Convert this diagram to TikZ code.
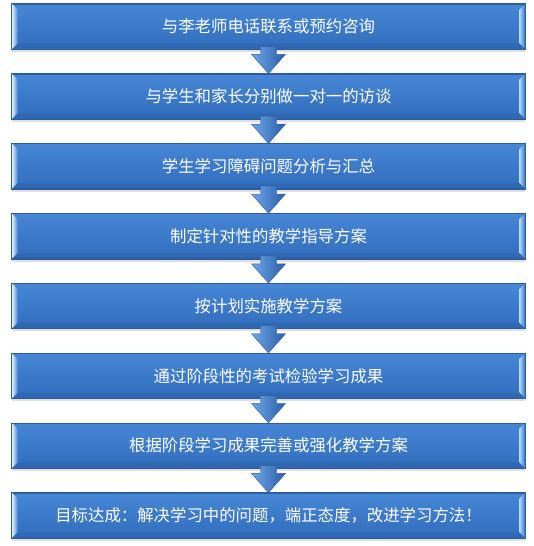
\documentclass[tikz,border=0pt]{standalone}
\usepackage{fontspec}
\setmainfont{Noto Sans CJK SC}
\usetikzlibrary{calc,shadows}
\definecolor{boxtop}{HTML}{4787D6}
\definecolor{boxbot}{HTML}{316DBD}
\definecolor{boxline}{HTML}{2B5C9E}
\definecolor{bevel}{HTML}{B4DBFC}
\definecolor{arrowlight}{HTML}{6FA6E8}
\definecolor{arrowdark}{HTML}{2A5EA8}

\begin{document}
\begin{tikzpicture}[x=1pt, y=-1pt,
  stepbox/.style={rectangle, draw=boxline, line width=0.6pt,
    top color=boxtop, bottom color=boxbot,
    minimum width=513pt, minimum height=45pt, inner sep=0pt,
    text=white, font=\fontsize{16.4}{19}\selectfont,
    drop shadow={shadow xshift=0pt, shadow yshift=-3pt, opacity=0.25}},
  downarrow/.style={left color=arrowlight, right color=arrowdark,
    draw=boxline, line width=0.4pt}]
  \useasboundingbox (0,0) rectangle (534,546);

  % the eight steps
  \node[stepbox] (b1) at (268.5,26.5)  {与李老师电话联系或预约咨询};
  \node[stepbox] (b2) at (268.5,96.35) {与学生和家长分别做一对一的访谈};
  \node[stepbox] (b3) at (268.5,166.2) {学生学习障碍问题分析与汇总};
  \node[stepbox] (b4) at (268.5,236.05) {制定针对性的教学指导方案};
  \node[stepbox] (b5) at (268.5,305.9) {按计划实施教学方案};
  \node[stepbox] (b6) at (268.5,375.75) {通过阶段性的考试检验学习成果};
  \node[stepbox] (b7) at (268.5,445.6) {根据阶段学习成果完善或强化教学方案};
  \node[stepbox] (b8) at (268.5,515.45) {目标达成：解决学习中的问题，端正态度，改进学习方法！};

  % bevelled sides
  \foreach \i in {1,...,8} {
    \shade[left color=bevel!30!white, right color=boxtop]
      (b\i.north west) -- ++(6,6) -- ($(b\i.south west)+(6,-6)$) -- (b\i.south west) -- cycle;
    \shade[left color=bevel, right color=boxbot]
      (b\i.north east) -- ++(-6,6) -- ($(b\i.south east)+(-6,-6)$) -- (b\i.south east) -- cycle;
    \fill[boxline, opacity=0.35]
      (b\i.south west) -- ++(6,-6) -- ($(b\i.south east)+(-6,-6)$) -- (b\i.south east) -- cycle;
    \draw[boxline, line width=0.6pt] (b\i.north west) rectangle (b\i.south east);
  }

  % arrows between steps
  \foreach \i [evaluate=\i as \j using int(\i+1)] in {1,...,7} {
    \shade[downarrow] ($(b\i.south)+(-8,-3)$) -- ($(b\i.south)+(-8,5)$)
      -- ($(b\i.south)+(-17,5)$) -- (b\j.north) -- ($(b\i.south)+(17,5)$)
      -- ($(b\i.south)+(8,5)$) -- ($(b\i.south)+(8,-3)$) -- cycle;
  }
\end{tikzpicture}
\end{document}
